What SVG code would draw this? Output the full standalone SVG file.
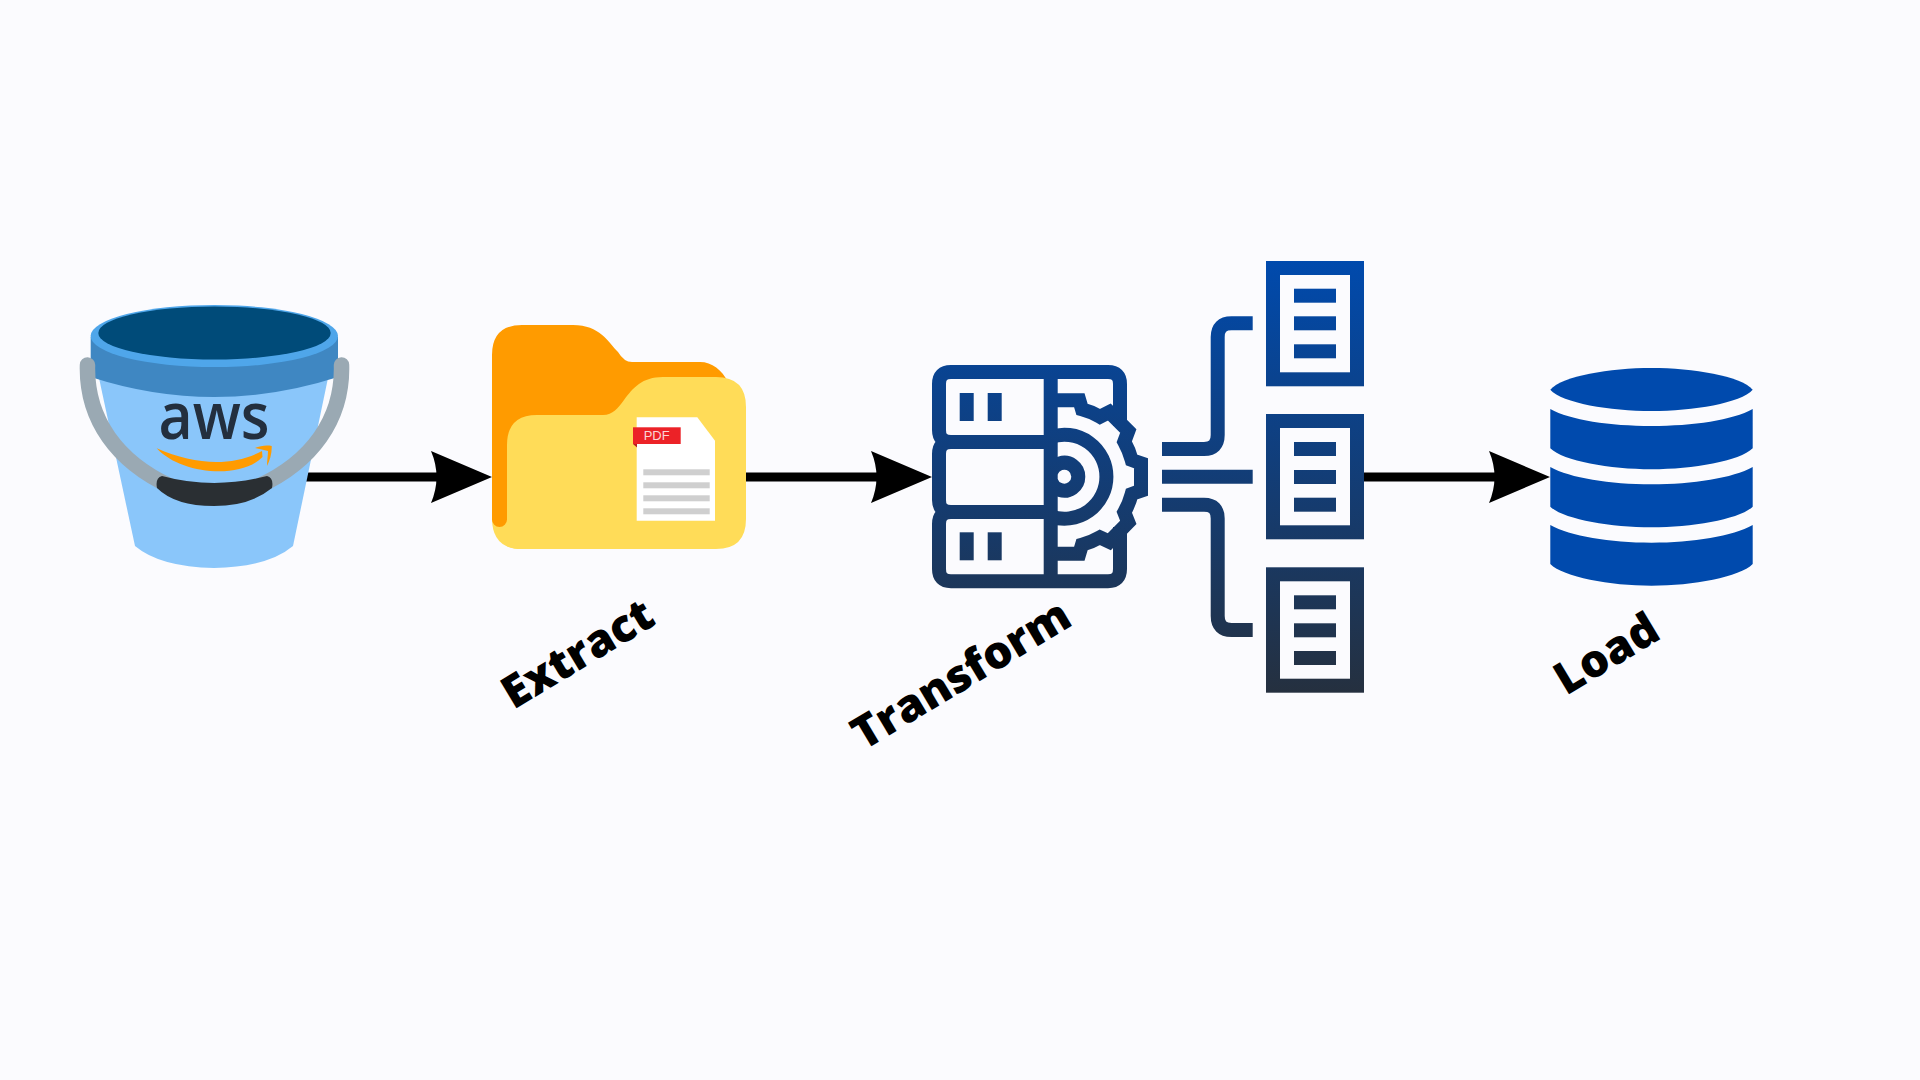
<svg xmlns="http://www.w3.org/2000/svg" width="1920" height="1080" viewBox="0 0 1920 1080">
<style>
.line{stroke:#000;stroke-width:9;fill:none}
.head{fill:#000}
.g{fill:none;stroke:url(#grad);stroke-width:14}
.f{fill:url(#grad)}
.gray{fill:#cfcfcf}
.db{fill:#004aad}
.lbl{font-family:"Open Sans","Noto Sans",sans-serif;font-weight:800;fill:#000;font-size:45px}
</style>
<defs>
<linearGradient id="grad" gradientUnits="userSpaceOnUse" x1="0" y1="261" x2="0" y2="693">
<stop offset="0" stop-color="#004aad"/><stop offset="1" stop-color="#25303f"/>
</linearGradient>
</defs>
<rect width="1920" height="1080" fill="#fbfbfe"/>
<g id="connectors">
<path class="line" d="M306 477H437"/><path class="head" d="M492 477L431 451Q442 477 431 503Z"/>
<path class="line" d="M746 477H877"/><path class="head" d="M932 477L871 451Q882 477 871 503Z"/>
<path class="line" d="M1364 477H1495"/><path class="head" d="M1550 477L1489 451Q1500 477 1489 503Z"/>
</g>
<g id="bucket">
<path fill="#8ac6fa" d="M99 378L135 546Q160 567 214 568Q268 567 293 546L328 378Z"/>
<path fill="#3f87c2" d="M90.7 337H338V377Q214 417 90.7 377Z"/>
<ellipse cx="214.3" cy="336" rx="123.7" ry="31" fill="#4fa6ea"/>
<ellipse cx="214.5" cy="333" rx="116.2" ry="26.5" fill="#004b79"/>
<path fill="none" stroke="#9aa9b3" stroke-width="15.5" stroke-linecap="round" d="M87.5 365C86 420 118 462 170 486M341.5 365C343 420 311 462 259 486"/>
<text x="158.5" y="438.5" font-family="'Open Sans',sans-serif" font-weight="600" font-size="65" fill="#232f3e" textLength="111" lengthAdjust="spacingAndGlyphs">aws</text>
<path fill="#ff9b00" d="M156.7 448.3C195 465 232 467 262 451L262.5 457C240 480 180 474 156.7 448.3ZM255 448C260 446 266 445 271.7 446C272 453 270 460 267 466C267 460 268 455 268 451C264 450 260 449 255 448Z"/>
<path fill="#2a2f33" d="M162 476Q214 490 267 476Q274 478 272 488Q250 506 214 506Q175 506 157 488Q155 478 162 476Z"/>
</g>
<g id="folder">
<path fill="#ffdc58" d="M492 500H530V549H522Q492 549 492 518Z"/>
<path fill="#ff9b00" d="M492 355Q492 325 522 325H573C600 325 608 342 618 352Q624 362 632 362H700C712 362 722 370 728 382V480H507V519.5A7.5 7.5 0 0 1 492 519.5Z"/>
<path fill="#ffdc58" d="M507 445Q507 415 537 415H603C613 415 618 408 624 400C633 388 642 377 663 377H716Q746 377 746 407V519Q746 549 716 549H522Q512 549 507 546.2Z"/>
<path fill="#fff" d="M636.7 417.3H697.3L715 440.7V520.7H636.7Z"/>
<path fill="#b81c20" d="M633 444L637 447.5V444Z"/>
<rect x="633" y="427.3" width="47.7" height="16.7" fill="#ec2227"/>
<text x="643.7" y="440" font-family="'Liberation Sans',sans-serif" font-size="13" fill="#fbd5d5">PDF</text>
<rect class="gray" x="643.3" y="469.3" width="66.4" height="6"/>
<rect class="gray" x="643.3" y="482.3" width="66.4" height="6"/>
<rect class="gray" x="643.3" y="495.3" width="66.4" height="6"/>
<rect class="gray" x="643.3" y="508.3" width="66.4" height="6"/>
</g>
<g id="server">
<path class="g" d="M1051 372H951Q939 372 939 384V430Q939 442 951 442H1051M1051 442H951Q939 442 939 454V500Q939 512 951 512H1051M1051 512H951Q939 512 939 524V569Q939 581.3 951 581.3H1051"/>
<path class="g" d="M1050.7 372V581.3"/>
<path class="g" d="M1051 372H1108Q1120 372 1120 384V426M1051 581.3H1108Q1120 581.3 1120 569V527"/>
<path class="g" d="M1051 400.3H1079.3L1082 409.3Q1092 412 1100 416.7L1109.3 412L1128.3 431L1124.3 441.7Q1129 450 1131.7 460L1141 463.3V490.7L1131.7 494Q1129 504 1124.3 512.3L1128.3 522.3L1109.3 541.7L1100 537.3Q1092 542 1082 544.7L1079.3 553.7H1051"/>
<path class="g" d="M1051 436.9A42 42 0 1 1 1051 516.5M1051 472.3A14 14 0 1 1 1051 481.1"/>
<rect class="f" x="959.7" y="393" width="14" height="28"/>
<rect class="f" x="987.7" y="393" width="14" height="28"/>
<rect class="f" x="959.7" y="532.3" width="14" height="28"/>
<rect class="f" x="987.7" y="532.3" width="14" height="28"/>
</g>
<g id="branches">
<path class="g" d="M1162 449H1204Q1217.7 449 1217.7 435V337Q1217.7 323.3 1231.5 323.3H1252.7"/>
<path class="g" d="M1162 476.7H1252.7"/>
<path class="g" d="M1162 504.7H1204Q1217.7 504.7 1217.7 518.5V616Q1217.7 630 1231.5 630H1252.7"/>
</g>
<g id="doc1">
<rect class="g" x="1273" y="268" width="84" height="111.3"/>
<rect class="f" x="1294" y="288.7" width="42" height="14"/>
<rect class="f" x="1294" y="316.3" width="42" height="14"/>
<rect class="f" x="1294" y="344.3" width="42" height="14"/>
</g>
<g id="doc2">
<rect class="g" x="1273" y="421" width="84" height="111.3"/>
<rect class="f" x="1294" y="442" width="42" height="14"/>
<rect class="f" x="1294" y="470" width="42" height="14"/>
<rect class="f" x="1294" y="497.7" width="42" height="14"/>
</g>
<g id="doc3">
<rect class="g" x="1273" y="574.3" width="84" height="111.4"/>
<rect class="f" x="1294" y="595.3" width="42" height="14"/>
<rect class="f" x="1294" y="623.3" width="42" height="14"/>
<rect class="f" x="1294" y="651" width="42" height="14"/>
</g>
<g id="database">
<path class="db" d="M1550.3 389.7C1562 376 1610 368 1651.5 368S1741 376 1752.7 389.7C1741 403 1693 411 1651.5 411S1562 403 1550.3 389.7Z"/>
<path class="db" d="M1550.3 409C1570 420 1610 426 1651.5 426S1733 420 1752.7 409V448.3C1740 461 1693 469.3 1651.5 469.3S1563 461 1550.3 448.3Z"/>
<path class="db" d="M1550.3 467C1570 478 1610 484.3 1651.5 484.3S1733 478 1752.7 467V506.7C1740 519 1693 527.3 1651.5 527.3S1563 519 1550.3 506.7Z"/>
<path class="db" d="M1550.3 525C1570 536 1610 542.7 1651.5 542.7S1733 536 1752.7 525V564C1740 577 1693 585.7 1651.5 585.7S1563 577 1550.3 564Z"/>
</g>
<g id="labels">
<text class="lbl" transform="translate(513.5 710) rotate(-31)" textLength="168" lengthAdjust="spacingAndGlyphs">Extract</text>
<text class="lbl" transform="translate(863.5 751) rotate(-31)" textLength="246" lengthAdjust="spacingAndGlyphs">Transform</text>
<text class="lbl" transform="translate(1566 696) rotate(-31)" textLength="113" lengthAdjust="spacingAndGlyphs">Load</text>
</g>
</svg>
